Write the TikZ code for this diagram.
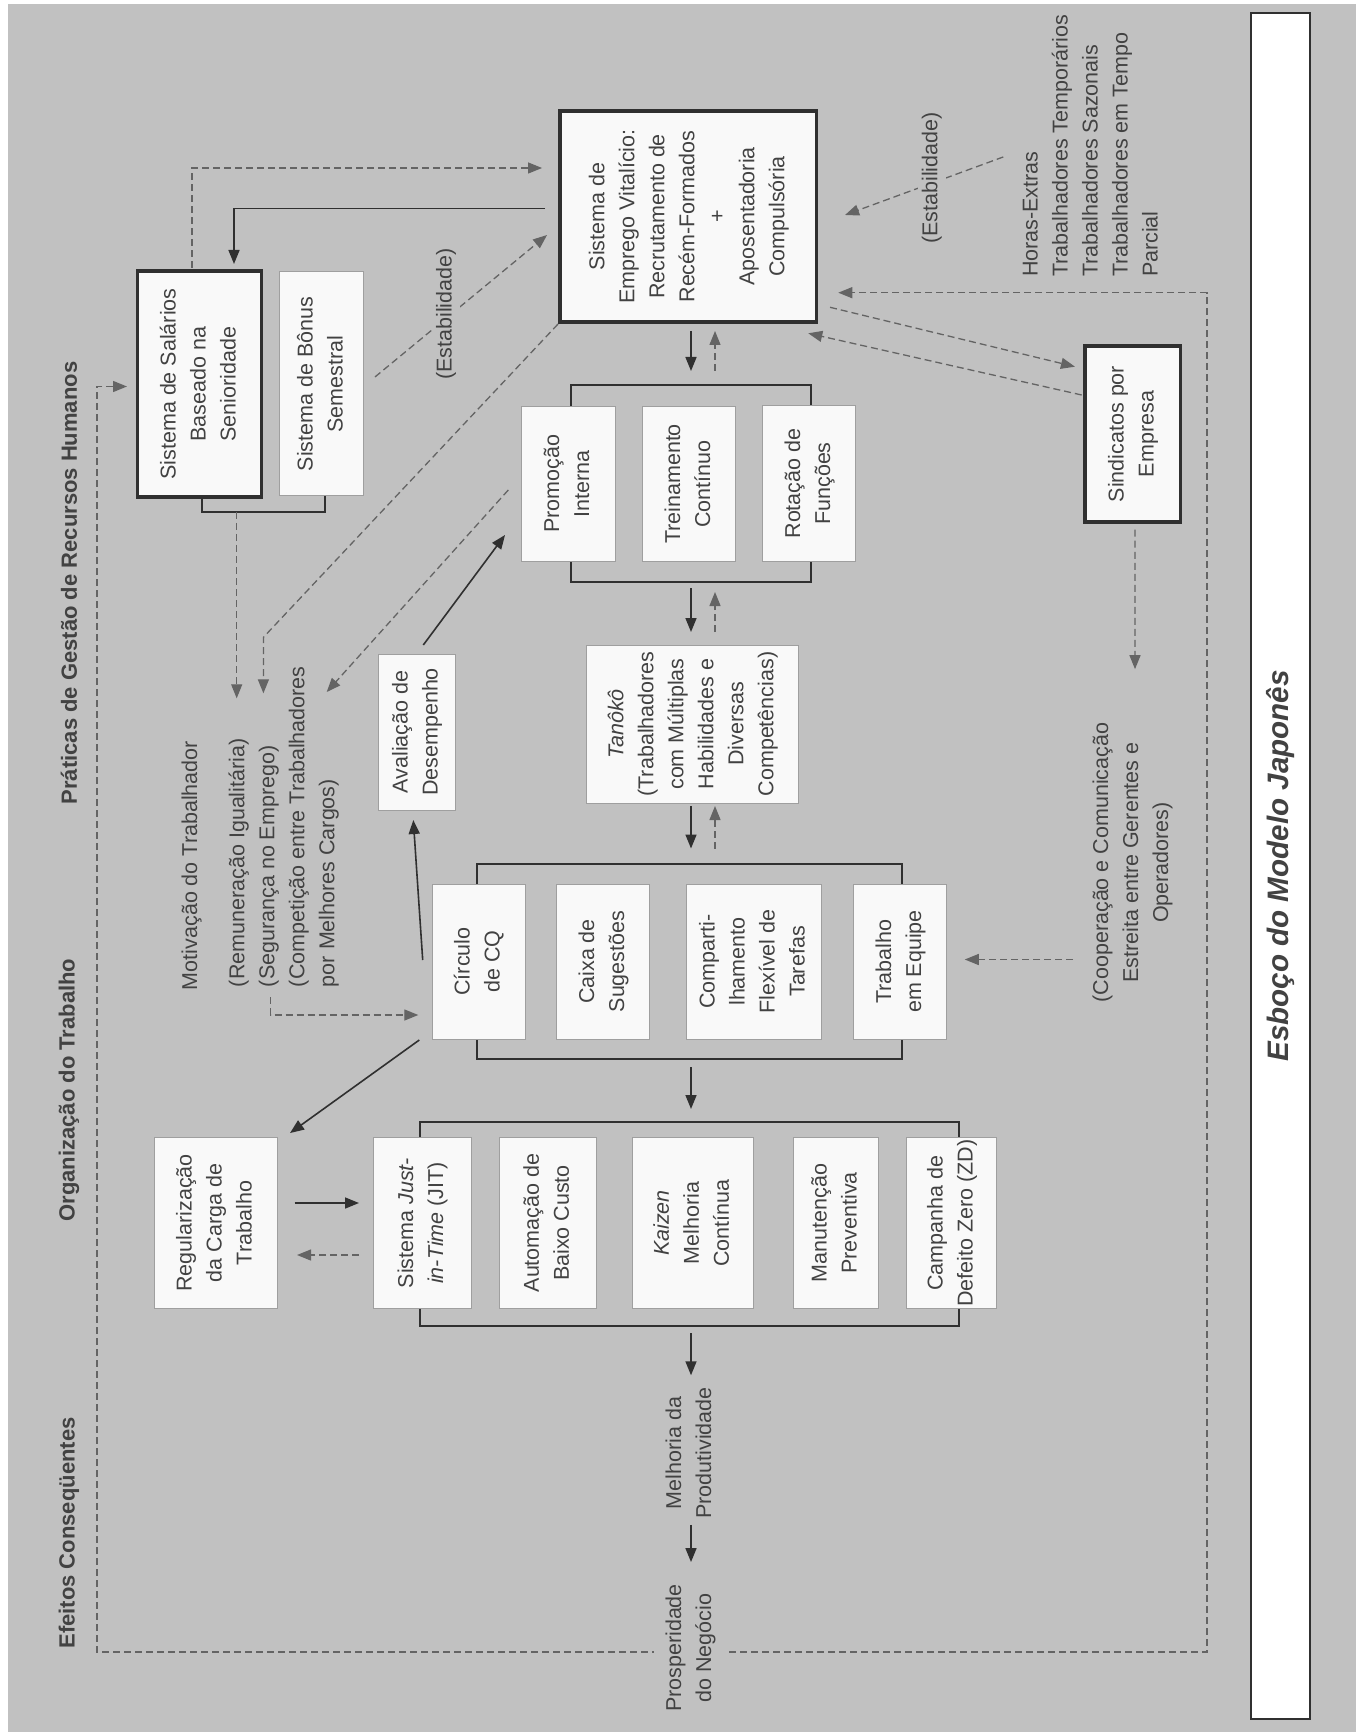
\documentclass[tikz,border=0pt]{standalone}
\usepackage{fontspec}
\setmainfont{Liberation Sans}
\usepackage{graphicx}
\usetikzlibrary{arrows.meta,calc}
\definecolor{bg}{RGB}{193,193,193}
\definecolor{ink}{RGB}{66,66,66}
\definecolor{lineD}{RGB}{48,48,48}
\definecolor{dashc}{RGB}{100,100,100}
\definecolor{boxf}{RGB}{249,249,249}
\newcommand\vt[1]{\rotatebox{90}{\begin{tabular}{@{}c@{}}#1\end{tabular}}}
\newcommand\vtl[1]{\rotatebox{90}{\begin{tabular}{@{}l@{}}#1\end{tabular}}}
\newcommand\fs{\fontsize{10.75}{15}\selectfont}
\begin{document}
\begin{tikzpicture}[x=0.5pt,y=-0.5pt,
  >={Triangle[length=7pt,width=5.5pt]},
  wbox/.style={draw=gray!75, line width=0.5pt, fill=boxf, inner sep=0pt, outer sep=0pt, font=\fs, text=ink},
  tbox/.style={draw=lineD, line width=1.8pt, fill=boxf, inner sep=0pt, outer sep=0pt, font=\fs, text=ink},
  grp/.style={draw=lineD, line width=1pt, inner sep=0pt, outer sep=0pt},
  txt/.style={inner sep=0pt, outer sep=0pt, font=\fs, text=ink},
  head/.style={inner sep=0pt, outer sep=0pt, font=\fontsize{11}{13}\selectfont\bfseries, text=ink},
  lab/.style={txt, fill=bg, inner sep=2pt},
  arr/.style={draw=lineD, line width=0.8pt, ->},
  darr/.style={draw=dashc, line width=0.65pt, dash pattern=on 3.5pt off 2pt, ->}]
\useasboundingbox (0,0) rectangle (1356,1732);
\fill[white] (0,0) rectangle (1356,1732);
\fill[bg] (8,4) rectangle (1356,1732);

% section headings
\node[head] (t1) at (69,583) {\rotatebox{90}{Práticas de Gestão de Recursos Humanos}};
\node[head] (t2) at (69,1090) {\rotatebox{90}{Organização do Trabalho}};
\node[head] (t3) at (69,1533) {\rotatebox{90}{Efeitos Conseqüentes}};

% right bar
\node[draw=lineD, line width=0.6pt, fill=white, inner sep=0pt, minimum width=29.5pt, minimum height=853pt, text=ink] (bar) at (1280.5,866)
  {\rotatebox{90}{\fontsize{14.8}{16}\selectfont\bfseries\itshape Esboço do Modelo Japonês}};

% group frames
\node[grp, minimum width=120pt, minimum height=98.25pt] (g1) at (691,483.75) {};
\node[grp, minimum width=212.75pt, minimum height=97.5pt] (g2) at (689.25,961) {};
\node[grp, minimum width=269.5pt, minimum height=101.75pt] (g3) at (689.5,1223.75) {};

% boxes
\node[tbox, minimum width=62pt, minimum height=113pt] (sal) at (199.5,384) {\vt{Sistema de Salários\\Baseado na\\Senioridade}};
\node[wbox, minimum width=41.75pt, minimum height=112pt] (bon) at (321.7,384) {\vt{Sistema de Bônus\\Semestral}};
\node[tbox, minimum width=128.25pt, minimum height=105.5pt] (emp) at (688.3,216.5) {\vt{Sistema de\\Emprego Vitalício:\\Recrutamento de\\Recém-Formados\\+\\Aposentadoria\\Compulsória}};
\node[wbox, minimum width=47pt, minimum height=77.5pt] (pro) at (568,484) {\vt{Promoção\\Interna}};
\node[wbox, minimum width=46.25pt, minimum height=77.5pt] (tre) at (689,484) {\vt{Treinamento\\Contínuo}};
\node[wbox, minimum width=46.5pt, minimum height=78pt] (rot) at (809,483.5) {\vt{Rotação de\\Funções}};
\node[tbox, minimum width=47.75pt, minimum height=87.75pt] (sin) at (1132.7,434) {\vt{Sindicatos por\\Empresa}};
\node[wbox, minimum width=38.5pt, minimum height=78pt] (ava) at (416.5,732) {\vt{Avaliação de\\Desempenho}};
\node[wbox, minimum width=106.3pt, minimum height=79pt] (tan) at (692.3,724) {\vt{\textit{Tanôkô}\\(Trabalhadores\\com Múltiplas\\Habilidades e\\Diversas\\Competências)}};
\node[wbox, minimum width=46.5pt, minimum height=77.5pt] (cir) at (478.5,961.5) {\vt{Círculo\\de CQ}};
\node[wbox, minimum width=46.75pt, minimum height=77.5pt] (cai) at (603,961.5) {\vt{Caixa de\\Sugestões}};
\node[wbox, minimum width=67.5pt, minimum height=77.5pt] (com) at (753.5,961.5) {\vt{Comparti-\\lhamento\\Flexível de\\Tarefas}};
\node[wbox, minimum width=46.75pt, minimum height=77.5pt] (tra) at (900,961.5) {\vt{Trabalho\\em Equipe}};
\node[wbox, minimum width=61.5pt, minimum height=85.25pt] (reg) at (215.5,1223) {\vt{Regularização\\da Carga de\\Trabalho}};
\node[wbox, minimum width=49pt, minimum height=85.25pt] (jit) at (422,1223) {\vt{Sistema \textit{Just-}\\\textit{in-Time} (JIT)}};
\node[wbox, minimum width=48.25pt, minimum height=85.25pt] (aut) at (547.8,1223) {\vt{Automação de\\Baixo Custo}};
\node[wbox, minimum width=60.8pt, minimum height=85.25pt] (kai) at (692.8,1223) {\vt{\textit{Kaizen}\\Melhoria\\Contínua}};
\node[wbox, minimum width=42.5pt, minimum height=85.25pt] (man) at (835.5,1223) {\vt{Manutenção\\Preventiva}};
\node[wbox, minimum width=45pt, minimum height=85.25pt] (cam) at (951.6,1223) {\vt{Campanha de\\Defeito Zero (ZD)}};

% loop coordinates (drawn before texts so that texts can mask it)
\coordinate (c1) at (97,386.5);
\coordinate (c2) at (97,1652);
\coordinate (c3) at (1207,1652);
\coordinate (c4) at (1207,292.7);
\draw[darr, <->] ($(sal.west)+(-10.5,2.5)$) -- (c1) -- (c2) -- (c3) -- (c4) -- ($(emp.east)+(21.7,76.2)$);

% free texts
\node[txt, anchor=south] (mot) at (191.7,990) {\rotatebox{90}{Motivação do Trabalhador}};
\node[txt, anchor=south] (blk) at (283.4,987) {\vtl{(Remuneração Igualitária)\\(Segurança no Emprego)\\(Competição entre Trabalhadores\\por Melhores Cargos)}};
\node[txt, anchor=south] (hor) at (1091.7,277) {\vtl{Horas-Extras\\Trabalhadores Temporários\\Trabalhadores Sazonais\\Trabalhadores em Tempo\\Parcial}};
\node[txt] (coo) at (1132,862.5) {\vt{(Cooperação e Comunicação\\Estreita entre Gerentes e\\Operadores)}};
\node[txt] (mel) at (690,1453) {\vt{Melhoria da\\Produtividade}};
\node[txt, fill=bg, inner xsep=3pt, inner ysep=0pt] (prs) at (690,1648) {\vt{Prosperidade\\do Negócio}};

% bracket under HR boxes
\draw[lineD, line width=1pt] ($(sal.south)+(2,0)$) |- ($(bon.south)+(3.3,16)$) -- ($(bon.south)+(3.3,0)$);
\coordinate (brk) at ($(sal.south)+(37.2,15)$);

% HR connectors
\draw[arr] ($(emp.west)+(-15,-8)$) -| ($(sal.north)+(34.5,-7)$);
\draw[darr] ($(sal.north)+(-7.5,-3)$) |- ($(emp.west)+(-18,-48.5)$);
\draw[darr] ($(bon.east)+(11.5,-7)$) -- ($(emp.west)+(-13,18.5)$);
\node[lab] (lab1) at (446,314) {\rotatebox{90}{(Estabilidade)}};
\draw[darr] ($(hor.west)+(-13.4,11)$) -- ($(emp.east)+(28.5,-1.5)$);
\node[lab] (lab2) at (931.7,178) {\rotatebox{90}{(Estabilidade)}};
\draw[darr] ($(emp.south east)+(13.5,-14.7)$) -- ($(sin.west)+(-10,-67.3)$);
\draw[darr] ($(sin.west)+(-3.3,-39)$) -- ($(emp.south east)+(-8.3,11.3)$);
\draw[darr] ($(sin.south)+(2.3,8)$) -- ($(coo.north)+(3,-53.5)$);
\draw[darr] ($(coo.west)+(-14,97)$) -- ($(tra.east)+(18,-2)$);

% to motivation block
\draw[darr] (brk) -- ($(brk |- blk.north)+(0,32)$);
\coordinate (c5) at ($(blk.north west)+(40,-29)$);
\draw[darr] ($(emp.south west)+(-2,2)$) -- (c5) -- ($(blk.north west)+(40,27)$);
\draw[darr] ($(pro.west)+(-12.7,6)$) -- ($(blk.north west)+(103.3,25.7)$);
\draw[darr] ($(blk.south)+(-12.7,10)$) |- ($(cir.west)+(-13.7,53.5)$);

% central column
\draw[arr] ($(emp.south -| g1.north)+(0,9)$) -- ($(g1.north)+(0,-14.5)$);
\draw[darr] ($(g1.north)+(24,-14.5)$) -- ($(emp.south -| g1.north)+(24,9)$);
\draw[arr] ($(g1.south)+(0,6)$) -- ($(tan.north -| g1.south)+(0,-13)$);
\draw[darr] ($(tan.north -| g1.south)+(24,-13)$) -- ($(g1.south)+(24,10)$);
\draw[arr] ($(tan.south -| g1.south)+(0,3)$) -- ($(g2.north -| g1.south)+(0,-15)$);
\draw[darr] ($(g2.north -| g1.south)+(24,-15)$) -- ($(tan.south -| g1.south)+(24,3)$);
\draw[arr] ($(g2.south -| g1.south)+(0,8.5)$) -- ($(g3.north -| g1.south)+(0,-13)$);
\draw[arr] ($(g3.south -| g1.south)+(0,7.5)$) -- ($(mel.north -| g1.south)+(0,-12)$);
\draw[arr] ($(mel.south -| g1.south)+(0,6)$) -- ($(prs.north -| g1.south)+(0,-22)$);

% left side solid arrows
\draw[arr] ($(ava.north)+(6.8,-9)$) -- ($(pro.west)+(-16,51)$);
\draw[arr] ($(cir.west)+(-9.3,-1.5)$) -- ($(ava.south)+(-3.2,10)$);
\draw[arr] ($(cir.south west)+(-12.7,1)$) -- ($(reg.north east)+(13,-4.7)$);
\draw[arr] ($(reg.east)+(17.6,-20)$) -- ($(jit.west)+(-14,-20)$);
\draw[darr] ($(jit.west)+(-14,32)$) -- ($(reg.east)+(20,32)$);
\end{tikzpicture}
\end{document}
